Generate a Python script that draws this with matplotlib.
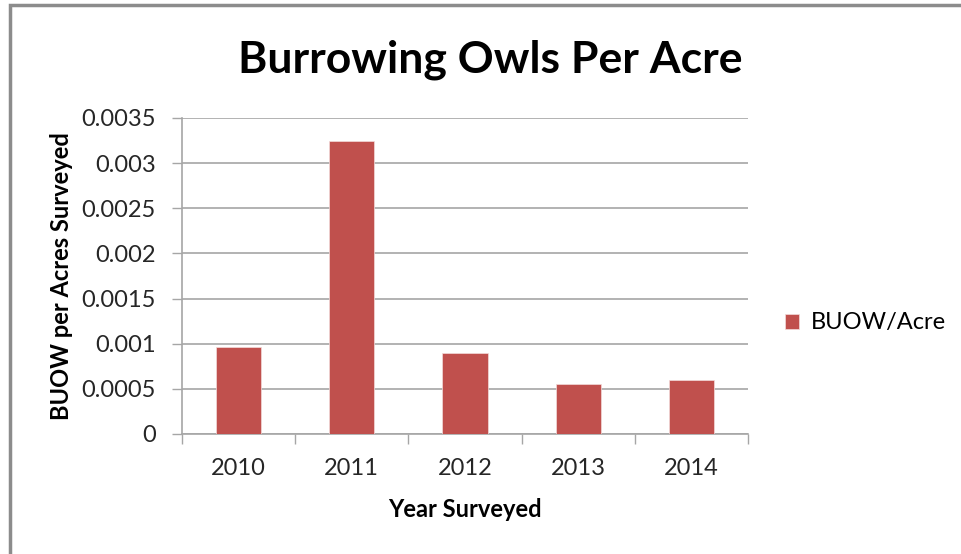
import numpy as np
import matplotlib
matplotlib.use("Agg")
import matplotlib.pyplot as plt
from matplotlib.patches import Rectangle

years = ["2010", "2011", "2012", "2013", "2014"]
buow_per_acre = [0.00096, 0.00324, 0.00090, 0.00055, 0.00060]
yticks = [0, 0.0005, 0.001, 0.0015, 0.002, 0.0025, 0.003, 0.0035]
ytick_labels = ["0", "0.0005", "0.001", "0.0015", "0.002", "0.0025", "0.003", "0.0035"]

plt.rcParams['font.family'] = ['Lato', 'DejaVu Sans']

fig = plt.figure(figsize=(9.61, 5.54), dpi=100)
ax = fig.add_axes([182/961, 1-434/554, (748-182)/961, (434-118)/554])

x = np.arange(len(years))
ax.bar(x, buow_per_acre, width=0.4, color='#C0504D', edgecolor='#f2dcdb', linewidth=0.5,
       label='BUOW/Acre', zorder=3)

grid_color = '#a6a6a6'
ax.set_xlim(-0.5, len(years) - 0.5)
ax.set_ylim(0, 0.0035)
ax.set_yticks(yticks)
ax.set_yticklabels(ytick_labels, fontsize=17, color='#262626')
ax.set_xticks(x)
ax.set_xticklabels(years, fontsize=17, color='#262626')
ax.yaxis.grid(True, color=grid_color, linewidth=1.2, zorder=0)
ax.tick_params(axis='y', length=7, width=1, color=grid_color, pad=12)
ax.tick_params(axis='x', length=0, pad=17)
# category boundary ticks on the x axis
ax.set_xticks(np.arange(len(years) + 1) - 0.5, minor=True)
ax.tick_params(axis='x', which='minor', length=7, width=1, color=grid_color, direction='out')
for s in ['top', 'right']:
    ax.spines[s].set_visible(False)
for s in ['left', 'bottom']:
    ax.spines[s].set_color(grid_color)
    ax.spines[s].set_linewidth(1.2)

ax.set_xlabel("Year Surveyed", fontsize=17, fontweight='bold', labelpad=14)
ax.set_ylabel("BUOW per Acres Surveyed", fontsize=17, fontweight='bold', labelpad=6)

fig.text(490/961, 1-60/554, "Burrowing Owls Per Acre", fontsize=32, fontweight='bold',
         ha='center', va='center')

fig.legend(loc='center left', bbox_to_anchor=(764/961, 1-323/554), frameon=False,
           fontsize=17, handlelength=0.6, handleheight=0.6, handletextpad=0.5)

# outer chart border
fig.patches.append(Rectangle((10/961, -0.1), 1.2, 1 - 5/554 + 0.1, transform=fig.transFigure,
                             fill=False, edgecolor='#8c8c8c', linewidth=2.5))

fig.savefig("out.png", dpi=100)
